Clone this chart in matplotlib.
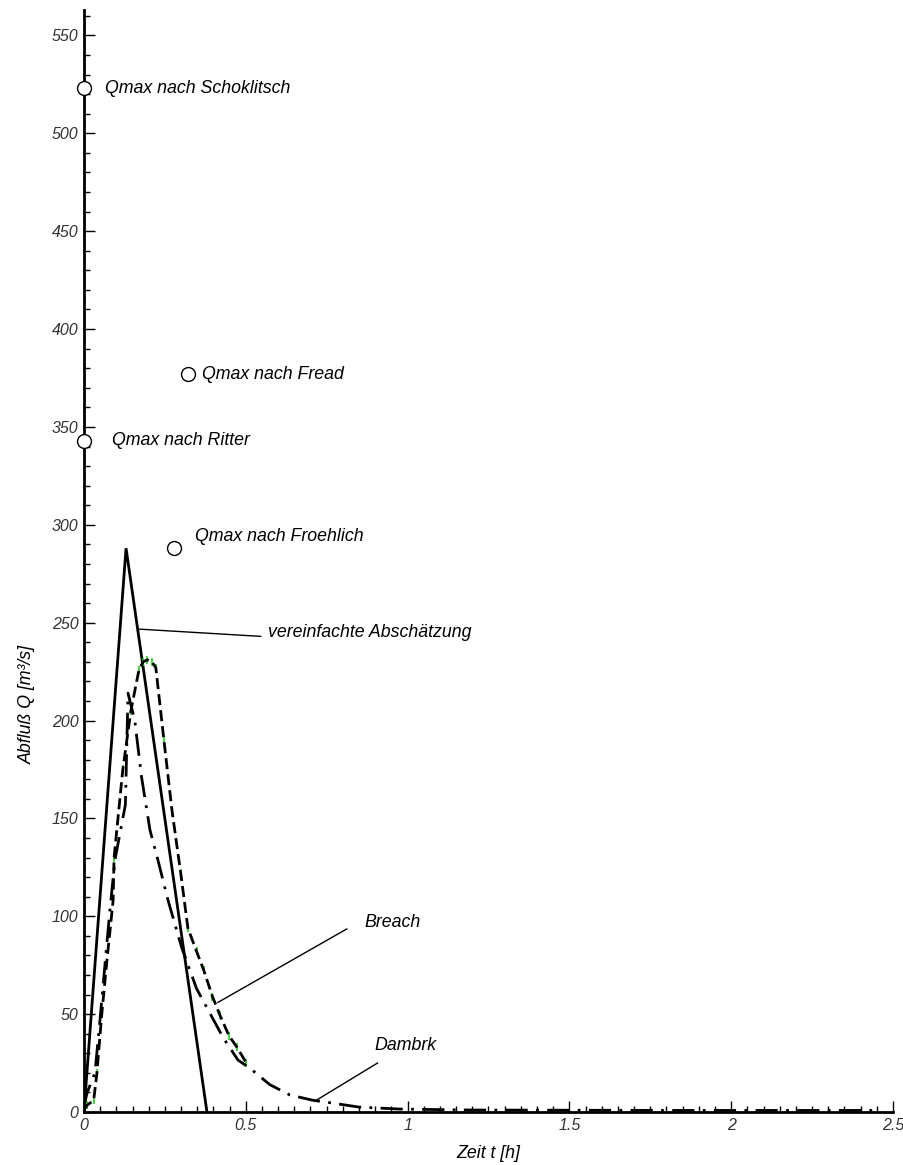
import matplotlib
matplotlib.use("Agg")
from matplotlib import pyplot as plt
from matplotlib.ticker import MultipleLocator

plt.rcParams['font.family'] = ['Liberation Sans', 'DejaVu Sans']
plt.rcParams['font.style'] = 'italic'

# vereinfachte Abschätzung (Dreieck)
t_simple = [0.0, 0.13, 0.38]
q_simple = [0.0, 288.0, 0.0]

# Breach
t_breach = [0.0, 0.01, 0.03, 0.04, 0.055, 0.07, 0.09, 0.093, 0.12, 0.145, 0.17, 0.183, 0.196,
            0.21, 0.222, 0.247, 0.272, 0.299, 0.321, 0.348, 0.37, 0.397, 0.42, 0.448, 0.473, 0.502]
q_breach = [1.0, 3.5, 6.0, 20.0, 50.0, 76.0, 108.0, 130.0, 175.0, 205.0, 226.0, 230.0, 231.0,
            230.0, 227.0, 190.0, 154.0, 122.0, 94.0, 82.0, 72.5, 59.0, 49.5, 39.0, 33.0, 25.0]

# Dambrk
t_dambrk = [0.0, 0.01, 0.034, 0.05, 0.08, 0.096, 0.128, 0.136, 0.157, 0.178, 0.204, 0.228,
            0.26, 0.302, 0.348, 0.389, 0.43, 0.476, 0.512, 0.574, 0.636, 0.707, 0.77, 0.85,
            0.975, 1.2, 1.5, 1.8, 2.1, 2.45]
q_dambrk = [3.0, 10.0, 20.0, 48.0, 103.0, 129.0, 157.0, 214.0, 200.0, 171.0, 144.0, 129.0,
            108.0, 84.0, 63.0, 50.5, 38.0, 26.5, 22.5, 14.0, 8.7, 6.0, 4.5, 2.5,
            1.5, 1.0, 0.9, 0.8, 0.8, 0.8]

# Qmax nach verschiedenen Formeln
qmax_names = ["Schoklitsch", "Fread", "Ritter", "Froehlich"]
qmax_t = [0.0, 0.32, 0.0, 0.278]
qmax_q = [523.0, 377.0, 343.0, 288.0]
qmax_text_pos = [(0.065, 523), (0.364, 377), (0.086, 343), (0.343, 294)]

fig = plt.figure(figsize=(9.04, 11.65), dpi=100)
ax = fig.add_axes([0.0929, 0.0455, 0.8949, 0.9459])

ax.plot(t_simple, q_simple, color="black", lw=2, solid_joinstyle="miter")
ax.plot(t_breach, q_breach, ls="none", marker="|", ms=6, mew=1.2, color="#22cc22")
ax.plot(t_breach, q_breach, color="black", lw=2, ls=(0, (4, 1.8)))
ax.plot(t_dambrk, q_dambrk, color="black", lw=2, ls=(0, (8, 3, 1, 3)))

ax.plot(qmax_t, qmax_q, ls="none", marker="o", ms=10, mfc="white", mec="black", mew=1,
        clip_on=False, zorder=5)
for name, (tx, ty) in zip(qmax_names, qmax_text_pos):
    ax.text(tx, ty, "Qmax nach " + name, fontsize=12.8, va="center", ha="left")

# Beschriftungen mit Linien
ax.plot([0.17, 0.546], [246.7, 243.0], color="black", lw=1)
ax.text(0.568, 245, "vereinfachte Abschätzung", fontsize=12.8, va="center")
ax.plot([0.414, 0.812], [56.0, 93.5], color="black", lw=1)
ax.text(0.867, 97, "Breach", fontsize=12.8, va="center")
ax.plot([0.719, 0.907], [6.1, 25.0], color="black", lw=1)
ax.text(0.898, 34, "Dambrk", fontsize=12.8, va="center")

ax.set_xlim(0, 2.5)
ax.set_ylim(0, 563)
ax.spines["top"].set_visible(False)
ax.spines["right"].set_visible(False)
ax.spines["left"].set_linewidth(2)
ax.spines["bottom"].set_linewidth(2)

ax.xaxis.set_major_locator(MultipleLocator(0.5))
ax.xaxis.set_minor_locator(MultipleLocator(0.05))
ax.yaxis.set_major_locator(MultipleLocator(50))
ax.yaxis.set_minor_locator(MultipleLocator(10))
ax.tick_params(which="major", direction="in", length=8, width=1, labelsize=11.5,
               labelcolor="#333333", pad=4)
ax.tick_params(which="minor", direction="in", length=4, width=1)
ax.set_xticks([0, 0.5, 1, 1.5, 2, 2.5])
ax.set_xticklabels(["0", "0.5", "1", "1.5", "2", "2.5"])

ax.set_xlabel("Zeit t [h]", fontsize=12.8)
ax.xaxis.set_label_coords(0.5, -0.03)
ax.set_ylabel("Abfluß Q [m³/s]", fontsize=12.8)
ax.yaxis.set_label_coords(-0.06, 0.37)

fig.savefig("out.png", dpi=100)
